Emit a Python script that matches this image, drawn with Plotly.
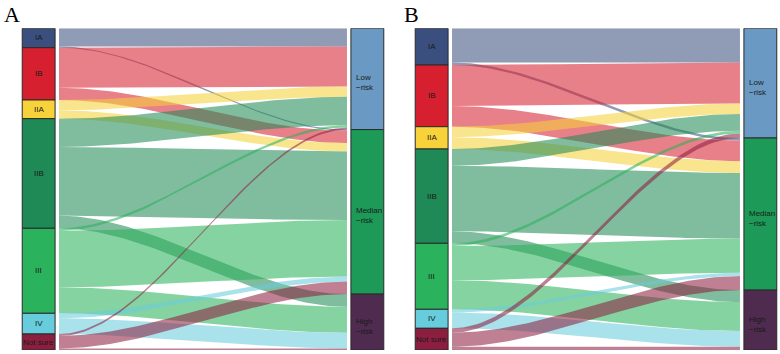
import numpy as np
import plotly.graph_objects as go

# ---------------- data ----------------
stages = ["IA", "IB", "IIA", "IIB", "III", "IV", "Not sure"]
risks = ["Low-risk", "Median-risk", "High-risk"]

# flow sizes (stage -> risk group), columns: Low, Median, High
flows_A = [
    [18.2, 1.2, 0.0],    # IA
    [40.0, 12.3, 0.0],   # IB
    [10.3, 8.4, 0.0],    # IIA
    [28.3, 68.6, 12.7],  # IIB
    [2.5, 56.5, 26.0],   # III
    [0.0, 5.0, 15.7],    # IV
    [2.0, 12.5, 1.5],    # Not sure
]
flows_B = [
    [34.2, 2.5, 0.0],    # IA
    [41.0, 20.7, 0.0],   # IB
    [10.5, 11.8, 0.0],   # IIA
    [16.7, 65.6, 12.0],  # IIB
    [2.8, 34.2, 29.0],   # III
    [0.0, 3.3, 15.7],    # IV
    [4.5, 14.0, 3.2],    # Not sure
]
panel_titles = ["A", "B"]

stage_colors = ["#3b4f7f", "#d6202f", "#f7d23a", "#1f8a55", "#2bb25c", "#67ccdc", "#8c1f40"]
risk_colors = ["#6a9ac4", "#1d9a58", "#4f2b4f"]
FLOW_ALPHA = 0.57


def rgba(hex_color, a):
    h = hex_color.lstrip("#")
    r, g, b = int(h[0:2], 16), int(h[2:4], 16), int(h[4:6], 16)
    return f"rgba({r},{g},{b},{a})"


BAR_W = 0.1
GAP = 0.012
t = np.linspace(0, 1, 80)
s = t * t * (3 - 2 * t)

fig = go.Figure()


def add_panel(vals, xa, ya):
    M = np.array(vals, dtype=float)
    ltot = M.sum(1)
    rtot = M.sum(0)
    lstart = np.concatenate([[0], np.cumsum(ltot)[:-1]])
    rstart = np.concatenate([[0], np.cumsum(rtot)[:-1]])
    # left positions: within a stage, ordered by risk group
    ltop = np.zeros_like(M)
    cur = lstart.copy()
    for i in range(M.shape[0]):
        for j in range(M.shape[1]):
            ltop[i, j] = cur[i]
            cur[i] += M[i, j]
    # right positions: within a risk group, ordered by stage
    rtop = np.zeros_like(M)
    cur = rstart.copy()
    for j in range(M.shape[1]):
        for i in range(M.shape[0]):
            rtop[i, j] = cur[j]
            cur[j] += M[i, j]
    x0 = 1 + BAR_W / 2 + GAP
    x1 = 2 - BAR_W / 2 - GAP
    xs = x0 + (x1 - x0) * t
    for i in range(M.shape[0]):
        for j in range(M.shape[1]):
            v = M[i, j]
            if v <= 0:
                continue
            top = ltop[i, j] + (rtop[i, j] - ltop[i, j]) * s
            bot = top + v
            fig.add_trace(go.Scatter(
                x=np.concatenate([xs, xs[::-1]]),
                y=np.concatenate([top, bot[::-1]]),
                fill="toself", fillcolor=rgba(stage_colors[i], FLOW_ALPHA),
                mode="lines", line=dict(width=0), hoverinfo="skip",
                showlegend=False, xaxis=xa, yaxis=ya))
    # strata
    fig.add_trace(go.Bar(x=[1] * len(stages), y=ltot, base=lstart, width=BAR_W,
                         marker=dict(color=stage_colors, line=dict(color="#2a2a2a", width=1)),
                         showlegend=False, hoverinfo="skip", xaxis=xa, yaxis=ya))
    fig.add_trace(go.Bar(x=[2] * len(risks), y=rtot, base=rstart, width=BAR_W,
                         marker=dict(color=risk_colors, line=dict(color="#2a2a2a", width=1)),
                         showlegend=False, hoverinfo="skip", xaxis=xa, yaxis=ya))
    for i, name in enumerate(stages):
        fig.add_annotation(x=1, y=lstart[i] + ltot[i] / 2, xref=xa, yref=ya, text=name,
                           showarrow=False, font=dict(size=8, color="#1a1a1a", family="Liberation Sans"))
    for j, name in enumerate(risks):
        fig.add_annotation(x=2 - BAR_W / 2, y=rstart[j] + rtot[j] / 2, xref=xa, yref=ya,
                           text=name.replace("-", "<br>\u2212"), align="left", xanchor="left",
                           xshift=3, yshift=-4, showarrow=False,
                           font=dict(size=8, color="#1a1a1a", family="Liberation Sans"))
    return M.sum()


totA = add_panel(flows_A, "x", "y")
totB = add_panel(flows_B, "x2", "y2")

ydom = [1 - 350 / 354, 1 - 28.3 / 354]
fig.update_layout(
    width=780, height=354, margin=dict(l=0, r=0, t=0, b=0),
    paper_bgcolor="white", plot_bgcolor="white", barmode="overlay",
    xaxis=dict(domain=[0, 0.5], range=[0.8824, 2.0689], visible=False, fixedrange=True),
    xaxis2=dict(domain=[0.5, 1], range=[0.8733, 2.0598], visible=False, fixedrange=True),
    yaxis=dict(domain=ydom, range=[totA, 0], visible=False, fixedrange=True),
    yaxis2=dict(domain=ydom, range=[totB, 0], visible=False, fixedrange=True),
)
for k, (title, px) in enumerate(zip(panel_titles, [2, 402])):
    fig.add_annotation(x=px / 780, y=1.0, xref="paper", yref="paper", text=title,
                       xanchor="left", yanchor="top", showarrow=False, yshift=0,
                       font=dict(size=22, color="black", family="Liberation Serif"))

fig.write_html("out.html", config={"displayModeBar": False},
               post_script="document.body.style.margin='0';document.body.style.overflow='hidden';")
